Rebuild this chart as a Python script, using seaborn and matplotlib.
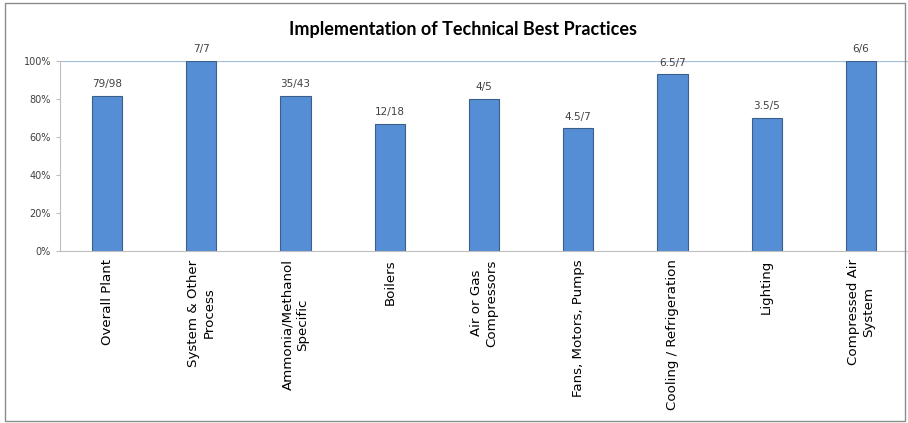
import matplotlib
matplotlib.use("Agg")
import matplotlib.pyplot as plt
import seaborn as sns
import pandas as pd
from matplotlib.patches import Rectangle
from matplotlib.ticker import PercentFormatter

categories = [
    "Overall Plant", "System & Other\nProcess", "Ammonia/Methanol\nSpecific",
    "Boilers", "Air or Gas\nCompressors", "Fans, Motors, Pumps",
    "Cooling / Refrigeration", "Lighting", "Compressed Air\nSystem",
]
shares = [0.816, 1.0, 0.814, 0.667, 0.80, 0.645, 0.929, 0.70, 1.0]
bar_labels = ["79/98", "7/7", "35/43", "12/18", "4/5", "4.5/7", "6.5/7", "3.5/5", "6/6"]

df = pd.DataFrame({"category": categories, "share": shares})

sns.set_style("white")
fig = plt.figure(figsize=(9.08, 4.23), dpi=100)
ax = fig.add_axes([60 / 908, 1 - 251 / 423, 848 / 908, 190 / 423])

sns.barplot(data=df, x="category", y="share", color="#558ED5", width=0.32,
            saturation=1, edgecolor="#3b5f8a", linewidth=0.8, ax=ax)

for i, (v, lab) in enumerate(zip(shares, bar_labels)):
    ax.annotate(lab, (i, v), xytext=(0, 5), textcoords="offset points",
                ha="center", va="bottom", fontsize=7.5, color="#404040")

ax.set_ylim(0, 1)
ax.set_xlim(-0.5, len(categories) - 0.5)
ax.yaxis.set_major_formatter(PercentFormatter(1.0, decimals=0))
ax.set_yticks([0, 0.2, 0.4, 0.6, 0.8, 1.0])
ax.tick_params(axis="y", labelsize=7, labelcolor="#404040", color="#bfbfbf",
               length=3, width=0.8, direction="out", left=True)
ax.tick_params(axis="x", labelsize=9.6, length=0, pad=6, labelrotation=90, colors="#000000")
for t in ax.get_xticklabels():
    t.set_multialignment("center")
ax.set_xlabel("")
ax.set_ylabel("")

ax.axhline(1.0, color="#a6bfd9", linewidth=0.9, zorder=0)
for s in ["top", "right"]:
    ax.spines[s].set_visible(False)
ax.spines["left"].set_color("#bfbfbf")
ax.spines["bottom"].set_color("#bfbfbf")
ax.spines["left"].set_linewidth(0.8)
ax.spines["bottom"].set_linewidth(0.8)

fig.text(463 / 908, 1 - 30 / 423, "Implementation of Technical Best Practices",
         ha="center", va="center", fontsize=13, fontweight="bold", family="Lato",
         color="black")

fig.patches.append(Rectangle((5 / 908, 2 / 423), 900 / 908, 418 / 423, transform=fig.transFigure,
                             fill=False, edgecolor="#8c8c8c", linewidth=1))

fig.savefig("out.png", dpi=100)
